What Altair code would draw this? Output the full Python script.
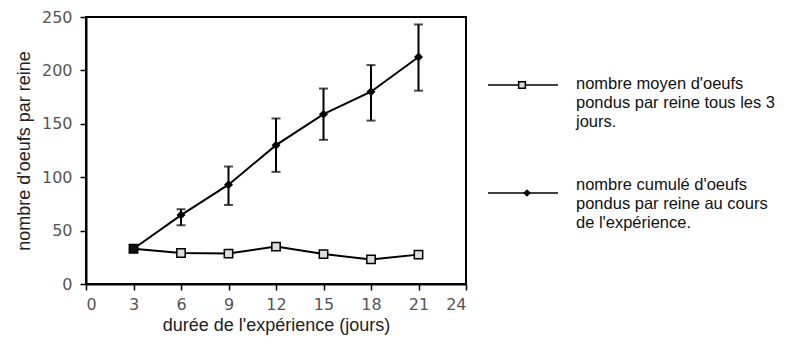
import altair as alt
import pandas as pd

days = [3, 6, 9, 12, 15, 18, 21]
mean_eggs = [33, 29, 28.5, 35, 28, 23, 27.5]
cum_eggs = [33, 64.5, 93, 130, 159, 180, 212.5]
cum_low = [33, 55, 74, 105, 135, 153, 181]
cum_high = [33, 70, 110, 155, 183, 205, 243]
mean_fill = ["#111111", "#dddddd", "#dddddd", "#dddddd", "#dddddd", "#dddddd", "#dddddd"]

legend_lines = [
    "nombre moyen d'oeufs",
    "pondus par reine tous les 3",
    "jours.",
    "nombre cumulé d'oeufs",
    "pondus par reine au cours",
    "de l'expérience.",
]

df = pd.DataFrame({"jour": days, "moyen": mean_eggs, "cumul": cum_eggs,
                   "lo": cum_low, "hi": cum_high, "fill": mean_fill})
err = df[df["jour"] > 3]

xs = alt.Scale(domain=[0, 24], nice=False, zero=False)
ys = alt.Scale(domain=[0, 250], nice=False)

x_axis = alt.Axis(
    title="durée de l'expérience (jours)",
    values=[i * 1.5 for i in range(17)],
    labelExpr="datum.value % 3 === 0 ? datum.label : ''",
    grid=False, domainColor="black", domainWidth=2, tickColor="black",
    tickWidth=1.5, tickSize={"condition": {"test": "datum.value % 3 === 0", "value": 6}, "value": 4},
    labelFont="DejaVu Sans", labelFontSize=16, labelColor="#555", labelPadding=6,
    titleFont="Liberation Sans", titleFontSize=18, titleFontWeight="normal", titleColor="#222", titlePadding=4,
)
y_axis = alt.Axis(
    title="nombre d'oeufs par reine",
    values=[i * 25 for i in range(11)],
    labelExpr="datum.value % 50 === 0 ? datum.label : ''",
    grid=False, domainColor="black", domainWidth=2, tickColor="black",
    tickWidth=1.5, tickSize={"condition": {"test": "datum.value % 50 === 0", "value": 6}, "value": 4},
    labelFont="DejaVu Sans", labelFontSize=16, labelColor="#555", labelPadding=8,
    titleFont="Liberation Sans", titleFontSize=18, titleFontWeight="normal", titleColor="#222", titlePadding=8,
)

base = alt.Chart(df)

mean_line = base.mark_line(color="black", strokeWidth=2).encode(
    x=alt.X("jour:Q", scale=xs, axis=x_axis), y=alt.Y("moyen:Q", scale=ys, axis=y_axis))
cum_line = base.mark_line(color="black", strokeWidth=2).encode(
    x=alt.X("jour:Q", scale=xs), y=alt.Y("cumul:Q", scale=ys))
err_rule = alt.Chart(err).mark_rule(color="black", strokeWidth=2).encode(
    x="jour:Q", y="lo:Q", y2="hi:Q")
cap_lo = alt.Chart(err).mark_tick(color="black", thickness=2, size=9, orient="horizontal").encode(
    x="jour:Q", y="lo:Q")
cap_hi = alt.Chart(err).mark_tick(color="black", thickness=2, size=9, orient="horizontal").encode(
    x="jour:Q", y="hi:Q")
cum_pts = alt.Chart(err).mark_point(shape="diamond", filled=True, color="black", size=80, opacity=1).encode(
    x="jour:Q", y="cumul:Q")
mean_pts = base.mark_point(shape="square", size=70, stroke="black", strokeWidth=1.5, opacity=1).encode(
    x="jour:Q", y="moyen:Q", fill=alt.Fill("fill:N", scale=None))

leg_df = pd.DataFrame({"t": legend_lines, "ypix": [67, 86, 105, 168, 187, 206]})
leg_text = alt.Chart(leg_df).mark_text(
    align="left", baseline="middle", font="Liberation Sans", fontSize=16.5, color="#111").encode(
    x=alt.value(490), y=alt.Y("ypix:Q", scale=None), text="t:N")

sym_df = pd.DataFrame({"y": [68, 176]})
leg_rule = alt.Chart(sym_df).mark_rule(color="black", strokeWidth=1.5).encode(
    x=alt.value(402), x2=alt.value(472), y=alt.Y("y:Q", scale=None))
leg_sq = alt.Chart(sym_df.iloc[[0]]).mark_point(shape="square", size=45, fill="#dddddd", stroke="black",
                                               strokeWidth=1.5, opacity=1).encode(
    x=alt.value(436), y=alt.Y("y:Q", scale=None))
leg_dm = alt.Chart(sym_df.iloc[[1]]).mark_point(shape="diamond", filled=True, color="black", size=60,
                                               opacity=1).encode(
    x=alt.value(441), y=alt.Y("y:Q", scale=None))

chart = alt.layer(mean_line, cum_line, err_rule, cap_lo, cap_hi, cum_pts, mean_pts,
                  leg_rule, leg_sq, leg_dm, leg_text).properties(
    width=380, height=267,
    autosize=alt.AutoSizeParams(type="none"),
    padding={"left": 78, "top": 9, "right": 336, "bottom": 56},
).configure(background="white").configure_view(stroke="black", strokeWidth=2)

chart.save("out.html", embed_options={"renderer": "svg", "actions": False})
